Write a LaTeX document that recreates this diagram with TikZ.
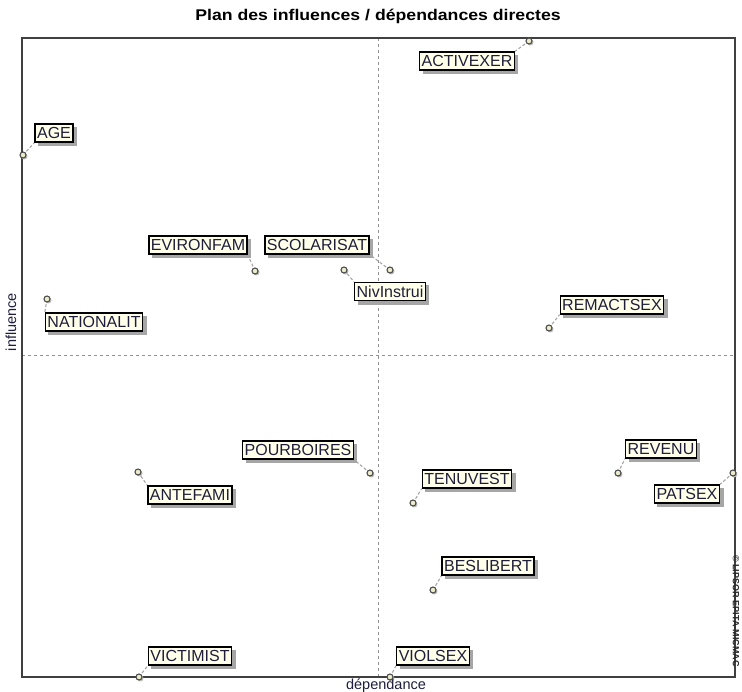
\documentclass[tikz,border=0pt]{standalone}
\usepackage{fontspec}
\setmainfont{Liberation Sans}
\usetikzlibrary{backgrounds}
\definecolor{labfill}{HTML}{FFFFEA}
\definecolor{labtext}{HTML}{1E1E3C}
\definecolor{ptfill}{HTML}{EDEDCC}
\pgfdeclarelayer{back}
\pgfdeclarelayer{shade}
\pgfsetlayers{back,shade,main}
\tikzset{
  lab/.style={draw=black, line width=1.3pt, fill=labfill, text=labtext,
    font=\fontsize{16}{16}\selectfont, inner xsep=2pt, inner ysep=0pt,
    minimum height=18pt},
  labshadow/.style={fill=gray!70, draw=none},
  pt/.style={circle, draw=black!70, line width=1.1pt, fill=ptfill, inner sep=0pt, minimum size=6pt},
  ptshadow/.style={fill=gray!55, draw=none},
  conn/.style={draw=gray!70, densely dashed, line width=1.1pt},
  axis/.style={draw=gray!85, dashed, line width=0.5pt},
  frame/.style={draw=black!75, line width=1.2pt}
}
\begin{document}
\begin{tikzpicture}[x=1pt,y=-1pt]
\useasboundingbox (0,0) rectangle (742,692);
% title
\node[font=\bfseries\fontsize{15.5}{16}\selectfont, text=black, xscale=1.14] (title) at (378,16) {Plan des influences / dépendances directes};
% frame and axes
\coordinate (fTL) at (22,38);
\coordinate (fBR) at (735,677);
\begin{pgfonlayer}{back}
\draw[axis] (378,38) -- (378,677);
\draw[axis] (22,355) -- (735,355);
\draw[frame] (fTL) rectangle (fBR);
\end{pgfonlayer}
\node[font=\fontsize{14.5}{15}\selectfont, text=labtext] (xlab) at (386,686) {dépendance};
\node[font=\fontsize{14.5}{15}\selectfont, text=labtext, rotate=90] (ylab) at (11,322) {influence};
\node[font=\bfseries\fontsize{9}{9}\selectfont, text=black!85, rotate=-90] (wm) at (736,611) {© LIPSOR-EPITA-MICMAC};
% points
\foreach \n/\x/\y in {ACTIVEXER/529/41, AGE/23/155, EVIRONFAM/255/271, SCOLARISAT/390/270,
  NivInstrui/344/270, NATIONALIT/47/299, REMACTSEX/549/328, POURBOIRES/370/473,
  ANTEFAMI/138/472, TENUVEST/413/503, REVENU/618/473, PATSEX/733/473,
  BESLIBERT/433/590, VICTIMIST/139/677, VIOLSEX/390/677}
  \coordinate (p\n) at (\x,\y);
% labels
\path
  (467,61) node[lab] (ACTIVEXER) {ACTIVEXER}
  (54,133) node[lab] (AGE) {AGE}
  (198,245) node[lab] (EVIRONFAM) {EVIRONFAM}
  (317,245) node[lab] (SCOLARISAT) {SCOLARISAT}
  (390,291.5) node[lab] (NivInstrui) {NivInstrui}
  (94,322) node[lab] (NATIONALIT) {NATIONALIT}
  (612,305) node[lab] (REMACTSEX) {REMACTSEX}
  (298,450) node[lab] (POURBOIRES) {POURBOIRES}
  (190,495) node[lab] (ANTEFAMI) {ANTEFAMI}
  (467,479) node[lab] (TENUVEST) {TENUVEST}
  (661,449) node[lab] (REVENU) {REVENU}
  (687,494) node[lab] (PATSEX) {PATSEX}
  (488,566) node[lab] (BESLIBERT) {BESLIBERT}
  (190,656) node[lab] (VICTIMIST) {VICTIMIST}
  (433,656) node[lab] (VIOLSEX) {VIOLSEX};
% shadows and connectors
\begin{pgfonlayer}{shade}
\foreach \n/\a in {ACTIVEXER/north east, AGE/south west, EVIRONFAM/south east,
  SCOLARISAT/south east, NivInstrui/north west, NATIONALIT/north west,
  REMACTSEX/south west, POURBOIRES/south east, ANTEFAMI/north west,
  TENUVEST/south west, REVENU/south west, PATSEX/north east,
  BESLIBERT/south west, VICTIMIST/south west, VIOLSEX/south west}
{
  \draw[conn] (p\n) -- (\n.\a);
  \fill[labshadow] ([shift={(3.5,3.5)}]\n.north west) rectangle ([shift={(3.5,3.5)}]\n.south east);
  \fill[ptshadow] ([shift={(1.3,1.3)}]p\n) circle (3.2);
}
\end{pgfonlayer}
% point markers
\foreach \n in {ACTIVEXER, AGE, EVIRONFAM, SCOLARISAT, NivInstrui, NATIONALIT,
  REMACTSEX, POURBOIRES, ANTEFAMI, TENUVEST, REVENU, PATSEX, BESLIBERT, VICTIMIST, VIOLSEX}
  \node[pt] (d\n) at (p\n) {};
\end{tikzpicture}
\end{document}
